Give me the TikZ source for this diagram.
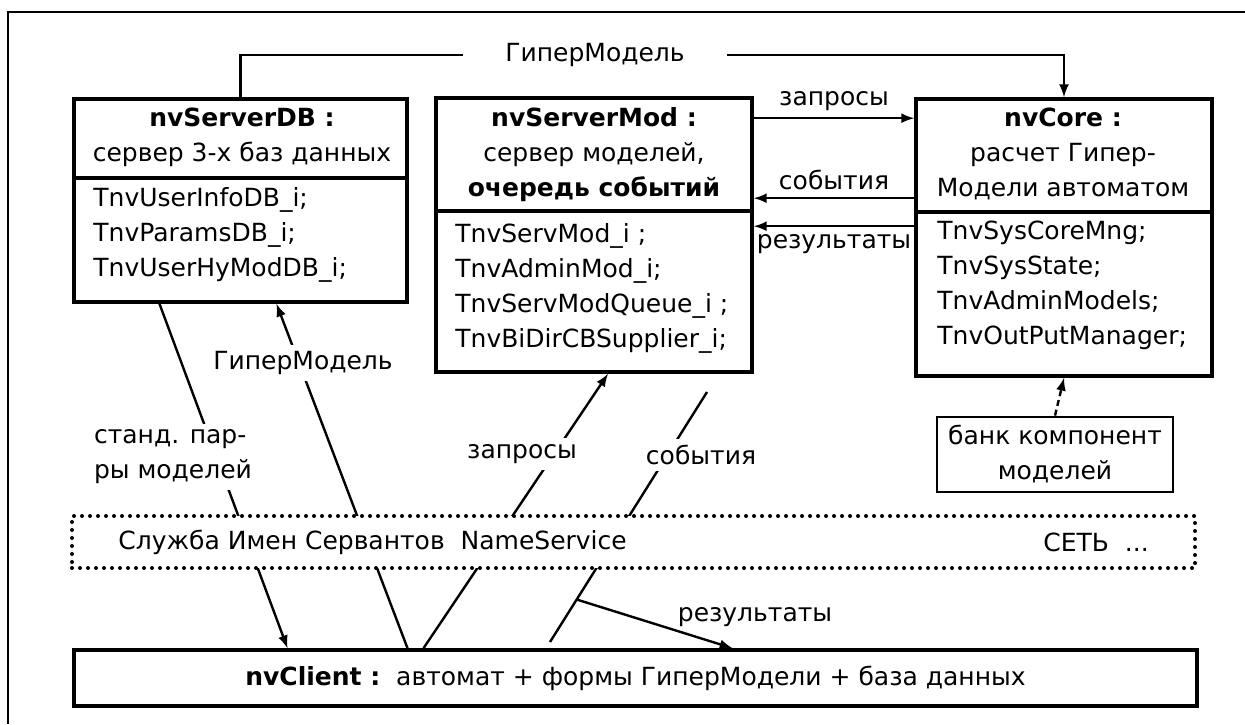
\documentclass[tikz,border=0pt]{standalone}
\usepackage{fontspec}
\setmainfont{DejaVu Sans}
\usetikzlibrary{calc}

\tikzset{
  box/.style={draw, line width=1.8pt, inner sep=0pt},
  conn/.style={line width=1.2pt},
  arr/.style={conn, -latex},
  lbl/.style={fill=white, inner sep=3pt},
  txt/.style={inner sep=0pt},
}

\begin{document}
\begin{tikzpicture}[x=0.5pt, y=-0.5pt, font=\fontsize{12.5}{17.5}\selectfont]
    \useasboundingbox (0,0) rectangle (1245,724);

    % outer frame
    \draw[line width=1.2pt] (8,724) -- (8,12) -- (1245,12);

    % nvServerDB
    \node[box, minimum width=166.5pt, minimum height=101.5pt] (db) at (240.5,200.5) {};
    \draw[line width=1.8pt] ($(db.north west)+(0,81)$) -- ($(db.north east)+(0,81)$);
    \node[txt, align=center] (dbhead) at (242,137.5) {\textbf{nvServerDB :}\\сервер 3-х баз данных};
    \node[txt, align=left, anchor=west] (dblist) at (93,235) {TnvUserInfoDB\_i;\\TnvParamsDB\_i;\\TnvUserHyModDB\_i;};

    % nvServerMod
    \node[box, minimum width=158pt, minimum height=137pt] (mod) at (594,235) {};
    \draw[line width=1.8pt] ($(mod.north west)+(0,115)$) -- ($(mod.north east)+(0,115)$);
    \node[txt, align=center] (modhead) at (594,155) {\textbf{nvServerMod :}\\сервер моделей,\\\textbf{очередь событий}};
    \node[txt, align=left, anchor=west] (modlist) at (455,288) {TnvServMod\_i ;\\TnvAdminMod\_i;\\TnvServModQueue\_i ;\\TnvBiDirCBSupplier\_i;};

    % nvCore
    \node[box, minimum width=148pt, minimum height=138.5pt] (core) at (1064,237.5) {};
    \draw[line width=1.8pt] ($(core.north west)+(0,115)$) -- ($(core.north east)+(0,115)$);
    \node[txt, align=center] (corehead) at (1063,154) {\textbf{nvCore :}\\расчет Гипер-\\Модели автоматом};
    \node[txt, align=left, anchor=west] (corelist) at (937,285) {TnvSysCoreMng;\\TnvSysState;\\TnvAdminModels;\\TnvOutPutManager;};

    % component bank
    \node[box, line width=1.4pt, align=center, minimum width=118pt, minimum height=37.5pt] (bank) at (1055,454.5) {банк компонент\\моделей};

    % client
    \node[box, minimum width=561.5pt, minimum height=28pt] (client) at (635.5,678) {\textbf{nvClient :}\ \ автомат + формы ГиперМодели + база данных};

    % top link
    \draw[arr] (db.north) -- ++(0,-42) -| (core.north);
    \node[lbl, inner xsep=21pt] (toplbl) at (595,55) {ГиперМодель};

    % server <-> core
    \draw[arr] ($(mod.north east)+(0,22)$) -- node[above] {запросы} ($(core.north west)+(0,21)$);
    \draw[arr] ($(core.north west)+(0,101)$) -- node[above] {события} ($(mod.north east)+(0,102)$);
    \draw[arr] ($(core.north west)+(0,129)$) -- node[below] {результаты} ($(mod.north east)+(0,130)$);
    \draw[conn, dash pattern=on 3pt off 2pt, -latex] (bank.north) -- (core.south);

    % client links
    \draw[arr] ($(db.south)+(-81,0)$) -- ($(client.north)+(-348,0)$);
    \draw[arr] ($(client.north)+(-228,0)$) -- ($(db.south)+(36,0)$);
    \draw[arr] ($(client.north)+(-212,0)$) -- ($(mod.south)+(14,0)$);
    \coordinate (evtop) at (707,392);
    \coordinate (evbot) at (550,642);
    \draw[conn] (evtop) -- (evbot);
    \draw[arr] ($(evtop)!0.83!(evbot)$) -- ($(client.north)+(97,0)$);

    % name service band
    \node[box, fill=white, line width=2pt, line cap=round, dash pattern=on 0pt off 4pt,
          minimum width=561.5pt, minimum height=26pt] (ns) at (633.5,542) {};
    \node[txt, anchor=west] (nstext) at (118,542) {Служба Имен Сервантов\ \ NameService};
    \node[txt, anchor=west] (nettext) at (1043,542) {СЕТЬ\ \ ...};

    % labels on the links
    \node[lbl, align=left] (stdlbl) at (173,457) {станд. пар-\\ры моделей};
    \node[lbl] (hmlbl) at (303,363) {ГиперМодель};
    \node[lbl] (reqlbl) at (522,454) {запросы};
    \node[lbl] (evlbl) at (701,455) {события};
    \node (reslbl) at (755,617) {результаты};
\end{tikzpicture}
\end{document}
